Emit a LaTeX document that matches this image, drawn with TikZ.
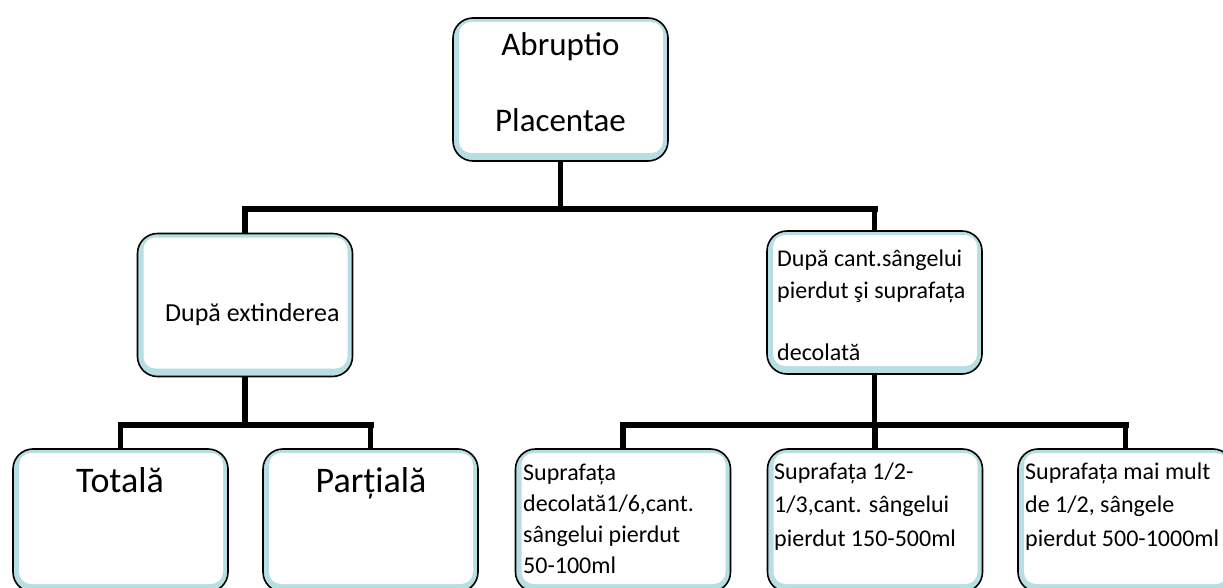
\documentclass[tikz,border=0pt]{standalone}
\usepackage{fontspec}
\setmainfont{Carlito}
\definecolor{bandblue}{RGB}{183,222,226}

\begin{document}
\begin{tikzpicture}[x=1pt,y=-1pt,
  box/.style={draw=black, line width=1.6pt, rounded corners=20pt, fill=bandblue,
    minimum width=215pt, minimum height=143pt, inner sep=0pt,
    path picture={\fill[white,rounded corners=12pt]
      ([shift={(6pt,8pt)}]path picture bounding box.south west) rectangle
      ([shift={(-5pt,-4pt)}]path picture bounding box.north east);}},
  bigtxt/.style={font=\fontsize{33}{40}\selectfont, inner sep=0pt},
  headtxt/.style={font=\fontsize{36}{43}\selectfont, inner sep=0pt, anchor=base},
  smalltxt/.style={font=\fontsize{24}{31}\selectfont, align=left, anchor=base west, inner sep=0pt},
  stem/.style={line width=5.5pt},
  bar/.style={line width=6pt, line cap=rect}]

\useasboundingbox (0,0) rectangle (1223,588);
\clip (0,0) rectangle (1223,588);

% boxes
\node[box] (top) at (560.5,89.5) {};
\node[box] (left) at (245,305) {};
\node[box] (right) at (874.5,302.5) {};
\node[box] (tot) at (120.5,520.5) {};
\node[box] (part) at (370.5,520.5) {};
\node[box] (s1) at (623,520.5) {};
\node[box] (s2) at (875,520.5) {};
\node[box] (s3) at (1125.5,520.5) {};

% texts (multi-line ones sit on the baseline of their last line)
\node[bigtxt] (abr) at (560.5,47) {Abruptio};
\node[bigtxt] (plac) at (560.5,120) {Placentae};
\node[font=\fontsize{26}{32}\selectfont, inner sep=0pt, anchor=west] (ext) at (165,315) {După extinderea};
\node[smalltxt, font=\fontsize{24}{32}\selectfont] (cant) at (777,360)
  {După cant.sângelui\\pierdut şi suprafața\\[30pt]decolată};
\node[headtxt] (totl) at (120,492) {Totală};
\node[headtxt] (parl) at (371,492) {Parțială};
\node[smalltxt] (s1l) at (523,573)
  {Suprafața\\decolată1/6,cant.\\sângelui pierdut\\50-100ml};
\node[smalltxt, font=\fontsize{24}{33.5}\selectfont] (s2l) at (774,546)
  {Suprafața 1/2-\\1/3,cant. sângelui\\pierdut 150-500ml};
\node[smalltxt, font=\fontsize{24}{33.5}\selectfont] (s3l) at (1025,546)
  {Suprafața mai mult\\de 1/2, sângele\\pierdut 500-1000ml};

% connectors
\coordinate (j0) at (560.5,209);
\coordinate (j1) at (245,425);
\coordinate (j2) at (874.5,425);

\draw[stem] (top.south) -- (j0);
\draw[stem] (left.north |- j0) -- (left.north);
\draw[stem] (right.north |- j0) -- (right.north);
\draw[bar] (left.north |- j0) -- (right.north |- j0);

\draw[stem] (left.south) -- (j1);
\draw[stem] (tot.north |- j1) -- (tot.north);
\draw[stem] (part.north |- j1) -- (part.north);
\draw[bar] (tot.north |- j1) -- (part.north |- j1);

\draw[stem] (right.south) -- (j2);
\draw[stem] (s1.north |- j2) -- (s1.north);
\draw[stem] (s2.north |- j2) -- (s2.north);
\draw[stem] (s3.north |- j2) -- (s3.north);
\draw[bar] (s1.north |- j2) -- (s3.north |- j2);
\end{tikzpicture}
\end{document}
